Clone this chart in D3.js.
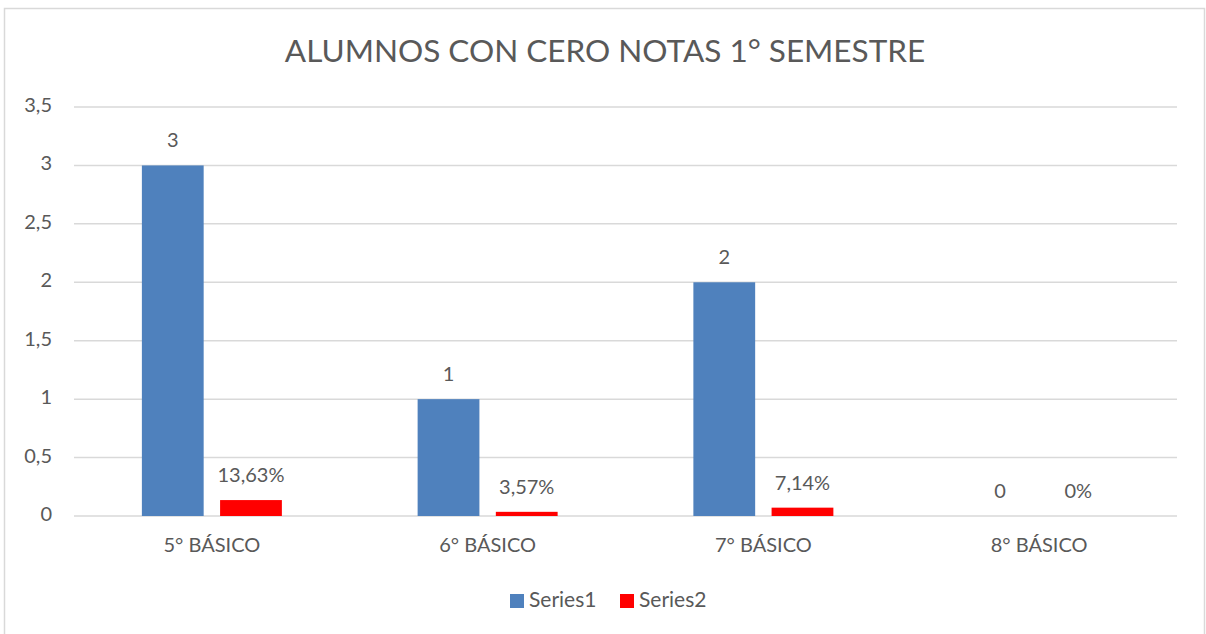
<!DOCTYPE html>
<html>
<head>
<meta charset="utf-8">
<script src="https://cdn.jsdelivr.net/npm/d3@7"></script>
<style>
body { margin: 0; background: #fff; }
text { font-family: Lato, "Open Sans", sans-serif; fill: #595959; }
</style>
</head>
<body>
<svg id="chart" width="1206" height="634"></svg>
<script>
var categories = ["5° BÁSICO", "6° BÁSICO", "7° BÁSICO", "8° BÁSICO"];
var series1 = [3, 1, 2, 0];
var series2 = [0.1363, 0.0357, 0.0714, 0];
var series2Labels = ["13,63%", "3,57%", "7,14%", "0%"];
var seriesNames = ["Series1", "Series2"];
var yTicks = [0, 0.5, 1, 1.5, 2, 2.5, 3, 3.5];

var colors = ["#4F81BD", "#FF0000"];
var svg = d3.select("#chart");

// chart border
svg.append("rect")
  .attr("x", 4.5).attr("y", 8.5)
  .attr("width", 1200).attr("height", 640)
  .attr("fill", "none")
  .attr("stroke", "#d9d9d9")
  .attr("stroke-width", 1.5);

var plotLeft = 74, plotRight = 1177, plotTop = 107, plotBottom = 516;

var x = d3.scaleBand().domain(categories).range([plotLeft, plotRight]);
var xInner = d3.scaleBand().domain([0, 1]).range([0, 140]).paddingInner(0.21);
var y = d3.scaleLinear().domain([0, 3.5]).range([plotBottom, plotTop]);

// gridlines
svg.append("g").selectAll("line")
  .data(yTicks)
  .enter()
  .append("line")
  .attr("x1", plotLeft).attr("x2", plotRight)
  .attr("y1", function (d) { return y(d) })
  .attr("y2", function (d) { return y(d) })
  .attr("stroke", "#d9d9d9")
  .attr("stroke-width", 1.5);

// y labels
var fmt = function (d) { return String(d).replace(".", ",") };
svg.append("g").selectAll("text")
  .data(yTicks)
  .enter()
  .append("text")
  .attr("x", 52)
  .attr("y", function (d) { return y(d) })
  .attr("text-anchor", "end")
  .attr("dominant-baseline", "middle")
  .style("font-size", "20px")
  .text(fmt);

var groups = svg.append("g").selectAll("g")
  .data(categories)
  .enter()
  .append("g")
  .attr("transform", function (d) { return "translate(" + (x(d) + x.bandwidth() / 2 - 70) + ",0)" });

var vals = [series1, series2];
var labs = [series1.map(String), series2Labels];

[0, 1].forEach(function (s) {
  groups.append("rect")
    .attr("x", xInner(s))
    .attr("width", xInner.bandwidth())
    .attr("y", function (d, i) { return y(vals[s][i]) })
    .attr("height", function (d, i) { return plotBottom - y(vals[s][i]) })
    .attr("fill", colors[s]);

  groups.append("text")
    .attr("x", xInner(s) + xInner.bandwidth() / 2)
    .attr("y", function (d, i) { return y(vals[s][i]) - 23 })
    .attr("text-anchor", "middle")
    .attr("dominant-baseline", "middle")
    .style("font-size", "20px")
    .text(function (d, i) { return labs[s][i] });
});

// category labels
svg.append("g").selectAll("text")
  .data(categories)
  .enter()
  .append("text")
  .attr("x", function (d) { return x(d) + x.bandwidth() / 2 })
  .attr("y", 547)
  .attr("text-anchor", "middle")
  .attr("dominant-baseline", "middle")
  .style("font-size", "20px")
  .text(function (d) { return d });

// title
svg.append("text")
  .attr("x", 605)
  .attr("y", 54)
  .attr("text-anchor", "middle")
  .attr("dominant-baseline", "middle")
  .style("font-size", "31.5px")
  .text("ALUMNOS CON CERO NOTAS 1° SEMESTRE");

// legend
var legend = svg.append("g");
var legendX = [510, 620];
seriesNames.forEach(function (n, i) {
  legend.append("rect")
    .attr("x", legendX[i]).attr("y", 594)
    .attr("width", 14).attr("height", 14)
    .attr("fill", colors[i]);
  legend.append("text")
    .attr("x", legendX[i] + 19).attr("y", 602)
    .attr("dominant-baseline", "middle")
    .style("font-size", "21px")
    .text(n);
});
</script>
</body>
</html>
